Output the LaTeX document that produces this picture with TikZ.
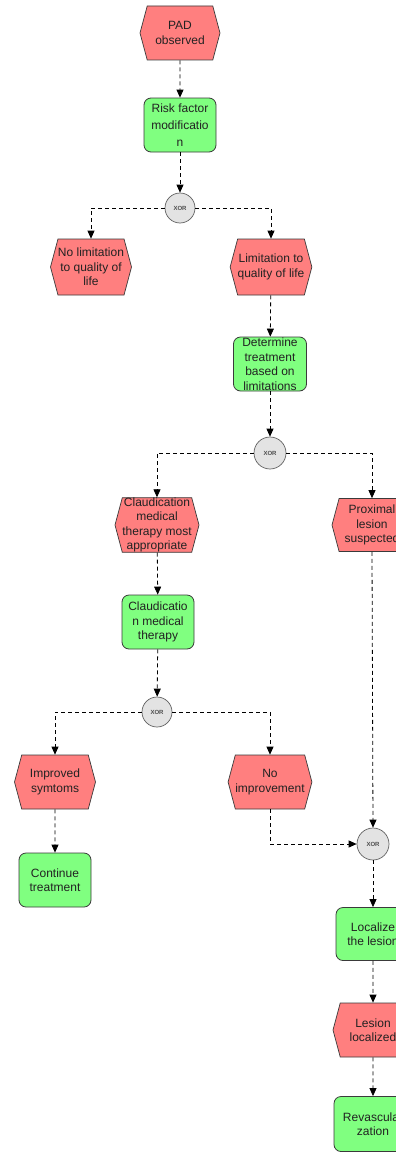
\documentclass[tikz,border=0pt]{standalone}
\usepackage{fontspec}
\setmainfont{Liberation Sans}
\usetikzlibrary{arrows.meta,shapes.symbols}

\definecolor{evfill}{HTML}{FF7F7F}
\definecolor{fnfill}{HTML}{80FF80}
\definecolor{opfill}{HTML}{E3E3E3}
\definecolor{outline}{HTML}{3A3A3A}
\definecolor{ink}{HTML}{222222}

\tikzset{
  lbl/.style={font=\fontsize{12}{14.5}\selectfont, text=ink, align=center, inner sep=0pt},
  event/.style={lbl, signal, signal to=west and east, signal pointer angle=150,
    fill=evfill, draw=outline, line width=0.7pt, minimum width=80pt, minimum height=54pt},
  func/.style={lbl, rectangle, rounded corners=7pt, fill=fnfill, draw=outline,
    line width=0.8pt, minimum width=72pt, minimum height=54pt},
  xorop/.style={circle, fill=opfill, draw=outline!80, line width=0.7pt, minimum size=30pt,
    inner sep=0pt, text=ink!80, font=\fontsize{6}{7}\selectfont\bfseries},
  flow/.style={draw=black, line width=0.8pt, dash pattern=on 4pt off 3pt,
    -{Triangle[length=8pt,width=7pt]}},
}

\begin{document}
\begin{tikzpicture}[x=1pt,y=-1pt]
  \useasboundingbox (0,0) rectangle (396,1156);
  \fill[white] (0,0) rectangle (396,1156);
  \clip (0,0) rectangle (396,1156);

  % events and functions
  \node[event] (pad)    at (180,33)  {PAD\\observed};
  \node[func, font=\fontsize{12}{17}\selectfont] (risk) at (180,125) {Risk factor\\modificatio\\n};
  \node[xorop]  (x1)    at (180,208) {XOR};
  \node[event, minimum width=78pt, minimum height=56pt] (nolim) at (91,267) {No limitation\\to quality of\\life};
  \node[event, minimum width=78pt, minimum height=56pt] (lim)   at (271,267) {Limitation to\\quality of life};
  \node[func, minimum width=73pt] (det) at (270,364) {Determine\\treatment\\based on\\limitations};
  \node[xorop, minimum size=32pt] (x2) at (270,453) {XOR};
  \node[event, minimum width=81pt, minimum height=53pt] (claud) at (157,525) {Claudication\\medical\\therapy most\\appropriate};
  \node[event, minimum height=53pt] (prox) at (372,525) {Proximal\\lesion\\suspected};
  \node[func] (cmt) at (158,622) {Claudicatio\\n medical\\therapy};
  \node[xorop] (x3) at (157,712) {XOR};
  \node[event, minimum width=81pt] (imp)   at (55,782)  {Improved\\symtoms};
  \node[event, minimum width=79pt] (noimp) at (270,782) {No\\improvement};
  \node[func] (cont) at (55,880) {Continue\\treatment};
  \node[xorop, minimum size=32pt] (x4) at (373,844) {XOR};
  \node[func, minimum width=74pt, minimum height=53pt] (loc) at (373,934) {Localize\\the lesion};
  \node[event] (lesloc) at (373,1030) {Lesion\\localized};
  \node[func, minimum width=78pt, minimum height=55pt] (revasc) at (373,1124) {Revascular\\zation};

  % control flow
  \draw[flow] (pad) -- (risk);
  \draw[flow] (risk) -- (x1);
  \draw[flow] (x1.west) -| (nolim.north);
  \draw[flow] (x1.east) -| (lim.north);
  \draw[flow] (lim) -- (det);
  \draw[flow] (det) -- (x2);
  \draw[flow] (x2.west) -| (claud.north);
  \draw[flow] (x2.east) -| (prox.north);
  \draw[flow] (claud) -- (cmt);
  \draw[flow] (cmt) -- (x3);
  \draw[flow] (x3.west) -| (imp.north);
  \draw[flow] (x3.east) -| (noimp.north);
  \draw[flow] (imp) -- (cont);
  \draw[flow] (noimp.south) |- (x4.west);
  \draw[flow] (prox.south) -- (x4.north);
  \draw[flow] (x4) -- (loc);
  \draw[flow] (loc) -- (lesloc);
  \draw[flow] (lesloc) -- (revasc);
\end{tikzpicture}
\end{document}
